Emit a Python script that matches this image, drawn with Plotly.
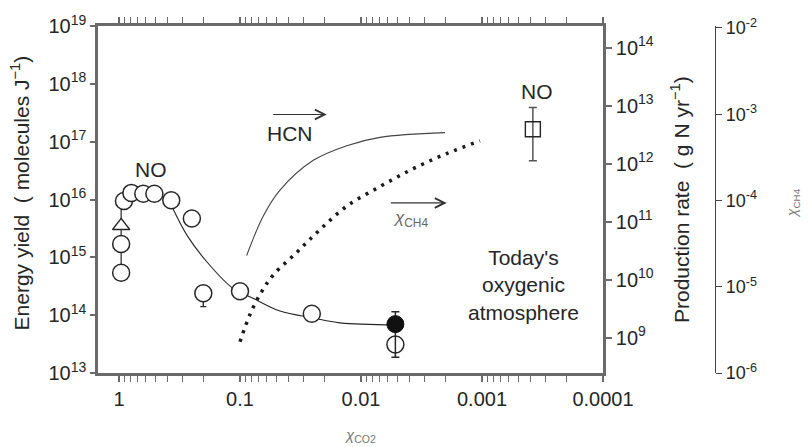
import plotly.graph_objects as go

# ---- data ----
# open circles: NO energy yield vs chi_CO2
co2_open = [0.96, 0.96, 0.91, 0.79, 0.63, 0.51, 0.37, 0.25, 0.201, 0.10, 0.0255, 0.0052]
yield_open = [5.4e14, 1.7e15, 9.4e15, 1.3e16, 1.26e16, 1.26e16, 9.7e15, 4.7e15, 2.4e14, 2.6e14, 1.06e14, 3.1e13]
yield_open_errminus = [0, 0, 0, 0, 0, 0, 0, 0, 1.0e14, 0, 0, 0]

# stacked points at chi_CO2 ~ 1 joined by a vertical line
stack_co2 = [0.96, 0.96]
stack_yield = [5.4e14, 9.4e15]

# triangle
tri_co2 = [0.96]
tri_yield = [3.5e15]

# filled circle with error bar
filled_co2 = [0.0052]
filled_yield = [7.0e13]
filled_err_plus = [4.5e13]
filled_err_minus = [5.13e13]

# square (today's atmosphere)
sq_co2 = [3.8e-4]
sq_yield = [1.64e17]
sq_err_plus = [2.26e17]
sq_err_minus = [1.17e17]

# NO fit curve
fit_co2 = [0.358, 0.274, 0.1874, 0.1143, 0.0781, 0.0467, 0.0249, 0.0149, 0.00514]
fit_yield = [6.9e15, 2.4e15, 8.3e14, 2.9e14, 1.96e14, 1.18e14, 8.96e13, 7.36e13, 6.8e13]

# HCN production rate (right axis)
hcn_co2 = [0.0881, 0.0642, 0.0467, 0.0248, 0.0131, 0.00697, 0.00202]
hcn_rate = [2.6e10, 1.25e11, 3.5e11, 1.14e12, 2.04e12, 2.84e12, 3.42e12]

# chi_CH4 (third axis)
ch4_co2 = [0.100, 0.0826, 0.0662, 0.0531, 0.0340, 0.0218, 0.0131, 0.00697, 0.0037, 0.00196, 0.00104]
ch4_mix = [2.3e-6, 4.8e-6, 8.8e-6, 1.37e-5, 2.5e-5, 4.6e-5, 8.6e-5, 1.45e-4, 2.34e-4, 3.5e-4, 4.9e-4]

x_ticks = [1, 0.1, 0.01, 0.001, 0.0001]
x_ticktext = ["1", "0.1", "0.01", "0.001", "0.0001"]
y_exp = [13, 14, 15, 16, 17, 18, 19]
y2_exp = [9, 10, 11, 12, 13, 14]
y3_exp = [-6, -5, -4, -3, -2]

FONT = "Liberation Sans, Arial, sans-serif"
INK = "#262626"
AX = "#6a6a6a"

fig = go.Figure()

fig.add_trace(go.Scatter(x=stack_co2, y=stack_yield, mode="lines",
                         line=dict(color=INK, width=1.2), showlegend=False))
fig.add_trace(go.Scatter(x=fit_co2, y=fit_yield, mode="lines",
                         line=dict(color=INK, width=1.1, shape="spline", smoothing=1.0),
                         showlegend=False))
fig.add_trace(go.Scatter(x=hcn_co2, y=hcn_rate, yaxis="y2", mode="lines",
                         line=dict(color="#444", width=1.1, shape="spline", smoothing=1.0),
                         showlegend=False))
fig.add_trace(go.Scatter(x=ch4_co2, y=ch4_mix, yaxis="y3", mode="lines",
                         line=dict(color="#1a1a1a", width=3.5, dash="3px,6px", shape="spline", smoothing=1.0),
                         showlegend=False))

fig.add_trace(go.Scatter(x=co2_open, y=yield_open, mode="markers",
                         marker=dict(symbol="circle", size=17, color="white",
                                     line=dict(color=INK, width=1.5)),
                         error_y=dict(type="data", symmetric=False, array=[0]*len(co2_open),
                                      arrayminus=yield_open_errminus, color=INK, thickness=1.3, width=3),
                         showlegend=False))
fig.add_trace(go.Scatter(x=tri_co2, y=tri_yield, mode="markers",
                         marker=dict(symbol="triangle-up", size=15, color="white",
                                     line=dict(color=INK, width=1.5)),
                         showlegend=False))
fig.add_trace(go.Scatter(x=filled_co2, y=filled_yield, mode="markers",
                         marker=dict(symbol="circle", size=17, color="#111",
                                     line=dict(color="#111", width=1)),
                         error_y=dict(type="data", symmetric=False, array=filled_err_plus,
                                      arrayminus=filled_err_minus, color=INK, thickness=1.5, width=4),
                         showlegend=False))
fig.add_trace(go.Scatter(x=sq_co2, y=sq_yield, mode="markers",
                         marker=dict(symbol="square", size=15, color="rgba(0,0,0,0)",
                                     line=dict(color=INK, width=1.4)),
                         error_y=dict(type="data", symmetric=False, array=sq_err_plus,
                                      arrayminus=sq_err_minus, color="#555", thickness=1.5, width=4),
                         showlegend=False))

tickfont = dict(family=FONT, size=20, color=INK)

fig.update_layout(
    width=812, height=447,
    margin=dict(l=98, r=60, t=20, b=74),
    paper_bgcolor="white", plot_bgcolor="white",
    font=dict(family=FONT, color=INK),
    xaxis=dict(type="log", range=[0.1736, -4], domain=[0, 0.7722],
               tickmode="array", tickvals=x_ticks, ticktext=x_ticktext,
               ticks="outside", ticklen=6, tickwidth=1.5, tickcolor=AX,
               showline=True, linecolor=AX, linewidth=2.5, mirror="allticks",
               showgrid=False, zeroline=False, tickfont=tickfont,
               minor=dict(tickmode="array",
                          tickvals=[m * 10.0 ** e for e in range(-4, 1) for m in range(2, 10)],
                          ticks="outside", ticklen=4, tickwidth=1.2, tickcolor=AX, showgrid=False)),
    yaxis=dict(type="log", range=[13, 19],
               tickmode="array", tickvals=[10.0 ** e for e in y_exp],
               ticktext=["10<sup>%d</sup>" % e for e in y_exp],
               ticks="outside", ticklen=5, tickwidth=1.5, tickcolor=AX,
               showline=True, linecolor=AX, linewidth=2.5,
               showgrid=False, zeroline=False, tickfont=tickfont),
    yaxis2=dict(type="log", range=[8.390, 14.373], overlaying="y", side="right", anchor="x",
                tickmode="array", tickvals=[10.0 ** e for e in y2_exp],
                ticktext=["10<sup>%d</sup>" % e for e in y2_exp],
                ticks="outside", ticklen=6, tickwidth=1.5, tickcolor=AX,
                showline=True, linecolor=AX, linewidth=2.5,
                showgrid=False, zeroline=False, tickfont=tickfont),
    yaxis3=dict(type="log", range=[-6, -1.977], overlaying="y", side="right",
                anchor="free", position=0.9434,
                tickmode="array", tickvals=[10.0 ** e for e in y3_exp],
                ticktext=["10<sup>%d</sup>" % e for e in y3_exp],
                ticks="outside", ticklen=6, tickwidth=1.3, tickcolor="#444",
                showline=True, linecolor="#444", linewidth=1.3,
                showgrid=False, zeroline=False,
                tickfont=dict(family=FONT, size=18, color=INK)),
)

ann = []
def text(x, y, s, size=21, color=INK, xref="x", yref="y", angle=0):
    ann.append(dict(x=x, y=y, xref=xref, yref=yref, text=s, showarrow=False,
                    font=dict(family=FONT, size=size, color=color), textangle=angle,
                    xanchor="center", yanchor="middle"))

def arrow(x0, x1, y):
    ann.append(dict(x=x1, y=y, ax=x0, ay=y, xref="x", yref="y", axref="x", ayref="y",
                    text="", showarrow=True, arrowhead=5, arrowsize=1.6, arrowwidth=1.2,
                    arrowcolor="#333", standoff=0, startstandoff=0))

text(-0.263, 16.524, "NO")
text(-3.452, 17.862, "NO")
text(-1.413, 17.142, "HCN")
arrow(-1.262, -1.717, 17.47)
arrow(-2.234, -2.708, 15.941)
text(-2.405, 15.657, "<i>χ</i><sub>CH4</sub>", size=17, color="#666")
text(-3.339, 14.53, "Today's<br>oxygenic<br>atmosphere", size=21)

text(-0.119, 0.518, "Energy yield  ( molecules J<sup>−1</sup>)", size=21, xref="paper", yref="paper", angle=-90)
text(0.89, 0.4986, "Production rate  ( g N yr<sup>−1</sup>)", size=21, xref="paper", yref="paper", angle=-90)
text(1.063, 0.49, "<i>χ</i><sub>CH4</sub>", size=14, color="#777", xref="paper", yref="paper", angle=-90)
text(0.4006, -0.181, "<i>χ</i><sub>CO2</sub>", size=15, color="#777", xref="paper", yref="paper")

fig.update_layout(annotations=ann)

fig.write_html("out.html")
